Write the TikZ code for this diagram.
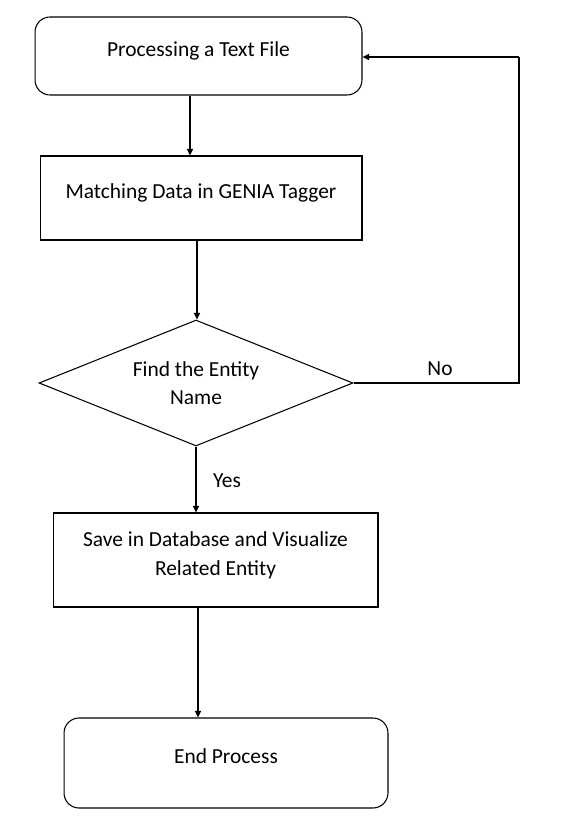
\documentclass[tikz,border=0pt]{standalone}
\usepackage{fontspec}
\setmainfont{Carlito}
\usetikzlibrary{shapes.geometric,arrows.meta}

\begin{document}
\begin{tikzpicture}
  [x=0.02cm,y=-0.02cm,line width=0.6pt,font=\fontsize{12.2}{15}\selectfont,
   every node/.style={draw,align=center,inner sep=0pt},
   box/.style={text depth=0.26cm},
   roundbox/.style={box,rounded corners=0.3cm},
   flow/.style={-{Triangle[length=1.3mm,width=1.2mm]}}]
  \useasboundingbox (0,0) rectangle (565,820);
  \node[roundbox,minimum width=6.54cm,minimum height=1.56cm] (start) at (198.5,56) {Processing a Text File};
  \node[box,minimum width=6.44cm,minimum height=1.68cm] (match) at (201,198) {Matching Data in GENIA Tagger};
  \node[diamond,shape aspect=2.5,minimum width=6.28cm,minimum height=2.52cm] (find) at (196,383) {Find the Entity\\[1pt]Name};
  \node[box,minimum width=6.5cm,minimum height=1.88cm] (save) at (215.5,560) {Save in Database and Visualize\\[1.5pt]Related Entity};
  \node[roundbox,minimum width=6.48cm,minimum height=1.8cm] (finish) at (226,763) {End Process};
  \coordinate (noturn) at (519,383);
  \coordinate (nocorner) at (519,57);

  \draw[flow] ([xshift=-0.17cm]start.south) -- ([xshift=-0.17cm]start.south |- match.north);
  \draw[flow] ([xshift=-0.08cm]match.south) -- ([xshift=-0.08cm]match.south |- find.north);
  \draw[flow] (find.south) -- (find.south |- save.north);
  \draw[flow] ([xshift=-0.35cm]save.south) -- ([xshift=-0.35cm]save.south |- finish.north);
  \draw (find.east) -- (noturn) -- (nocorner);
  \draw[flow] (nocorner) -- (start.east |- nocorner);

  \node[draw=none] (yes) at (227,481) {Yes};
  \node[draw=none] (no) at (440,369) {No};
\end{tikzpicture}
\end{document}
